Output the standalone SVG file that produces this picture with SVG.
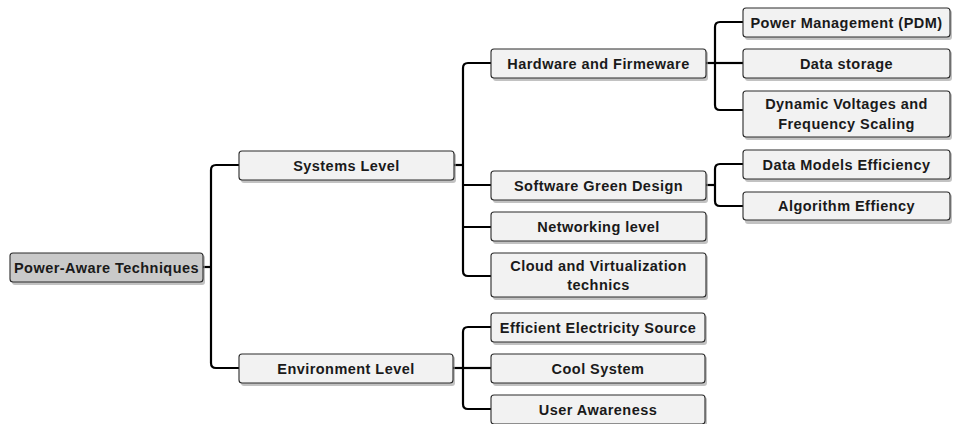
<svg xmlns="http://www.w3.org/2000/svg" width="953" height="424" viewBox="0 0 953 424">
<style>
.box{fill:#f2f2f2;stroke:#2a2a2a;stroke-width:1.1}
.root{fill:#c9c9c9;stroke:#2a2a2a;stroke-width:1.1}
.sh{fill:#9a9a9a;opacity:0.6}
.t{font-family:"Liberation Sans",Arial,sans-serif;font-weight:bold;font-size:14.5px;letter-spacing:0.45px;fill:#1a1a1a;text-anchor:middle}
.c{fill:none;stroke:#000;stroke-width:2.2;stroke-linejoin:round}
</style>
<rect width="953" height="424" fill="#fff"/>
<g id="connectors">
<path class="c" d="M203,267 H211"/>
<path class="c" d="M239,165 H216 Q211,165 211,170 V363 Q211,368 216,368 H239"/>
<path class="c" d="M454,165 H463"/>
<path class="c" d="M491,63 H468 Q463,63 463,68 V271 Q463,276 468,276 H491"/>
<path class="c" d="M463,185 H491 M463,227 H491"/>
<path class="c" d="M706,63 H715"/>
<path class="c" d="M743,22 H720 Q715,22 715,27 V105 Q715,110 720,110 H743"/>
<path class="c" d="M715,63 H743"/>
<path class="c" d="M706,185 H715"/>
<path class="c" d="M743,164 H720 Q715,164 715,169 V201 Q715,206 720,206 H743"/>
<path class="c" d="M453,368 H463"/>
<path class="c" d="M491,327 H468 Q463,327 463,332 V404 Q463,409 468,409 H491"/>
<path class="c" d="M463,368 H491"/>
</g>
<g id="root">
<rect class="sh" x="12" y="255" width="193" height="30" rx="3"/>
<rect class="root" x="10" y="253" width="193" height="29" rx="3"/>
<text class="t" x="106.5" y="272.5">Power-Aware Techniques</text>
</g>
<g id="systems">
<rect class="sh" x="241" y="153" width="215" height="30" rx="3"/>
<rect class="box" x="239" y="151" width="215" height="29" rx="3"/>
<text class="t" x="346.5" y="170.5">Systems Level</text>
</g>
<g id="environment">
<rect class="sh" x="241" y="356" width="214" height="30" rx="3"/>
<rect class="box" x="239" y="354" width="214" height="29" rx="3"/>
<text class="t" x="346" y="373.5">Environment Level</text>
</g>
<g id="hardware">
<rect class="sh" x="493" y="51" width="215" height="30" rx="3"/>
<rect class="box" x="491" y="49" width="215" height="29" rx="3"/>
<text class="t" x="598.5" y="68.5">Hardware and Firmeware</text>
</g>
<g id="software">
<rect class="sh" x="493" y="173" width="215" height="30" rx="3"/>
<rect class="box" x="491" y="171" width="215" height="29" rx="3"/>
<text class="t" x="598.5" y="190.5">Software Green Design</text>
</g>
<g id="networking">
<rect class="sh" x="493" y="214" width="215" height="30" rx="3"/>
<rect class="box" x="491" y="212" width="215" height="29" rx="3"/>
<text class="t" x="598.5" y="231.5">Networking level</text>
</g>
<g id="cloud">
<rect class="sh" x="493" y="255" width="215" height="45" rx="3"/>
<rect class="box" x="491" y="253" width="215" height="44" rx="3"/>
<text class="t" x="598.5" y="271">Cloud and Virtualization</text>
<text class="t" x="598.5" y="290">technics</text>
</g>
<g id="pdm">
<rect class="sh" x="745" y="10" width="207" height="30" rx="3"/>
<rect class="box" x="743" y="8" width="207" height="29" rx="3"/>
<text class="t" x="846.5" y="27.5">Power Management (PDM)</text>
</g>
<g id="storage">
<rect class="sh" x="745" y="51" width="207" height="30" rx="3"/>
<rect class="box" x="743" y="49" width="207" height="29" rx="3"/>
<text class="t" x="846.5" y="68.5">Data storage</text>
</g>
<g id="dvfs">
<rect class="sh" x="745" y="93" width="207" height="47" rx="3"/>
<rect class="box" x="743" y="91" width="207" height="46" rx="3"/>
<text class="t" x="846.5" y="109">Dynamic Voltages and</text>
<text class="t" x="846.5" y="129">Frequency Scaling</text>
</g>
<g id="datamodels">
<rect class="sh" x="745" y="152" width="207" height="30" rx="3"/>
<rect class="box" x="743" y="150" width="207" height="29" rx="3"/>
<text class="t" x="846.5" y="169.5">Data Models Efficiency</text>
</g>
<g id="algorithm">
<rect class="sh" x="745" y="194" width="207" height="30" rx="3"/>
<rect class="box" x="743" y="192" width="207" height="28" rx="3"/>
<text class="t" x="846.5" y="211">Algorithm Effiency</text>
</g>
<g id="electricity">
<rect class="sh" x="493" y="315" width="214" height="30" rx="3"/>
<rect class="box" x="491" y="313" width="214" height="29" rx="3"/>
<text class="t" x="598" y="332.5">Efficient Electricity Source</text>
</g>
<g id="cool">
<rect class="sh" x="493" y="356" width="214" height="30" rx="3"/>
<rect class="box" x="491" y="354" width="214" height="29" rx="3"/>
<text class="t" x="598" y="373.5">Cool System</text>
</g>
<g id="user">
<rect class="sh" x="493" y="397" width="214" height="30" rx="3"/>
<rect class="box" x="491" y="395" width="214" height="29" rx="3"/>
<text class="t" x="598" y="414.5">User Awareness</text>
</g>
</svg>
